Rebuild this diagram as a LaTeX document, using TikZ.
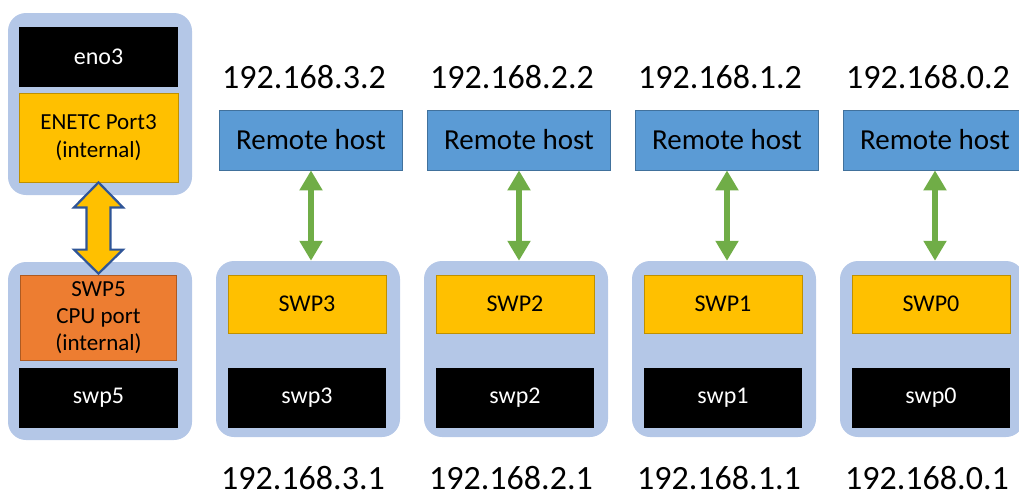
\documentclass[tikz,border=0pt]{standalone}
\usepackage{fontspec}
\setmainfont{Carlito}
\usetikzlibrary{arrows.meta,calc}

\definecolor{cajaazul}{HTML}{B4C7E7}
\definecolor{amarillo}{HTML}{FFC000}
\definecolor{amarilloborde}{HTML}{BF9000}
\definecolor{naranja}{HTML}{ED7D31}
\definecolor{naranjaborde}{HTML}{AE5A21}
\definecolor{hostazul}{HTML}{5B9BD5}
\definecolor{hostborde}{HTML}{41719C}
\definecolor{verde}{HTML}{70AD47}
\definecolor{azuloscuro}{HTML}{2F5597}

\begin{document}
\begin{tikzpicture}[x=1pt, y=-1pt,
  contenedor/.style={fill=cajaazul, rounded corners=18pt, minimum width=184pt, inner sep=0pt},
  puerto/.style={fill=amarillo, draw=amarilloborde, line width=0.8pt, minimum width=158pt,
                 minimum height=58pt, inner sep=0pt, font=\fontsize{24}{28}\selectfont},
  iface/.style={fill=black, text=white, minimum width=158pt, minimum height=60pt,
                inner sep=0pt, font=\fontsize{24}{28}\selectfont},
  host/.style={fill=hostazul, draw=hostborde, line width=0.8pt, minimum width=183pt,
               minimum height=60pt, inner sep=0pt, font=\fontsize{29}{34}\selectfont},
  ip/.style={inner sep=0pt, font=\fontsize{34}{40}\selectfont},
  enlace/.style={verde, line width=6pt,
                 {Triangle[width=22pt,length=20pt]}-{Triangle[width=22pt,length=20pt]}},
  flechagrande/.style={fill=amarillo, draw=azuloscuro, line width=2.2pt, line join=miter}]
  \useasboundingbox (0,0) rectangle (1019,493);

  % Lado del host: eno3 / ENETC
  \node[contenedor, minimum height=182pt] (host) at (100,104) {};
  \node[iface, minimum width=159pt] (eno3) at (98.5,57) {eno3};
  \node[puerto, minimum width=159pt, minimum height=89pt, align=center,
        font=\fontsize{23}{28}\selectfont] (enetc) at (98.5,137.5) {ENETC Port3\\(internal)};

  % Lado del switch: puerto CPU
  \node[contenedor, minimum height=178pt] (cpu) at (100,351) {};
  \node[puerto, fill=naranja, draw=naranjaborde, minimum width=156pt, minimum height=85pt,
        align=center, font=\fontsize{23}{27}\selectfont] (swp5) at (98.5,317.5)
        {SWP5\\CPU port\\(internal)};
  \node[iface, minimum width=159pt] (iswp5) at (98.5,398) {swp5};

  % Flecha doble ENETC <-> SWP5
  \coordinate (T) at (enetc.south);
  \coordinate (B) at ($(swp5.north)+(0,-1)$);
  \draw[flechagrande] (T) -- ++(24.5,25) -- ++(-12.5,0) -- ($(B)+(12,-24)$) -- ++(12.5,0)
        -- (B) -- ++(-24.5,-24) -- ++(12.5,0) -- ($(T)+(-12,25)$) -- ++(-12.5,0) -- cycle;

  % Puertos externos con su host remoto
  \foreach \n [count=\i from 0] in {3,2,1,0} {
    \pgfmathsetmacro\cx{308+208*\i}
    \node[ip] (ipr\n) at (\cx-4,77) {192.168.\n.2};
    \node[host] (rh\n) at (\cx+3,140) {Remote host};
    \node[contenedor, minimum height=176pt] (sw\n) at (\cx,349) {};
    \node[puerto] (puerto\n) at (\cx-1,304) {SWP\n};
    \node[iface] (iface\n) at (\cx-1,398) {swp\n};
    \node[ip] (ipl\n) at (\cx-5,478) {192.168.\n.1};
    \draw[enlace] (rh\n.south) -- (rh\n.south |- sw\n.north);
  }
\end{tikzpicture}
\end{document}
